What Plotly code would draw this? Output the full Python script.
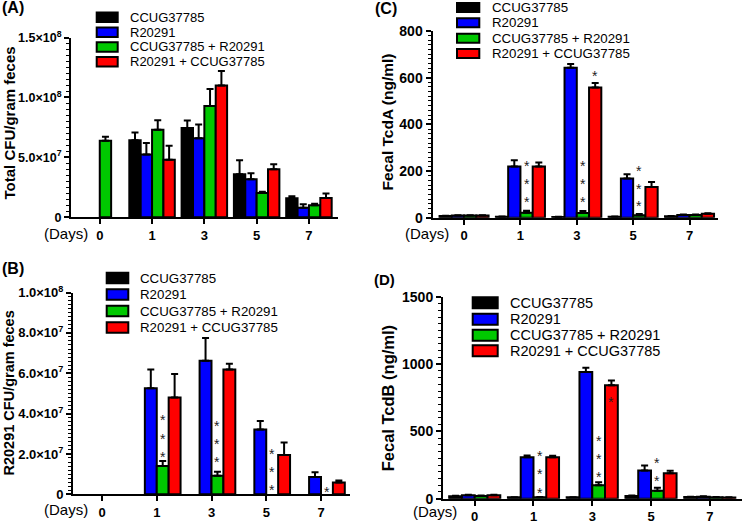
import plotly.graph_objects as go

W, H = 742, 523
FONT = "Liberation Sans, Arial, sans-serif"

# ---------------- data ----------------
days = ["0", "1", "3", "5", "7"]
series_names = ["CCUG37785", "R20291", "CCUG37785 + R20291", "R20291 + CCUG37785"]
series_colors = ["#000000", "#0000FF", "#00C800", "#FF0000"]

# (A) Total CFU/gram feces
a_ccug = [None, 6.43e7, 7.44e7, 3.60e7, 1.59e7]
a_ccug_err = [0, 0.64e7, 0.64e7, 1.16e7, 0.16e7]
a_r20291 = [None, 5.24e7, 6.60e7, 3.18e7, 0.80e7]
a_r20291_err = [0, 0.96e7, 1.14e7, 0.50e7, 0.28e7]
a_ccug_r = [6.38e7, 7.30e7, 9.28e7, 2.03e7, 1.00e7]
a_ccug_r_err = [0.33e7, 0.80e7, 1.42e7, 0.10e7, 0.12e7]
a_r_ccug = [None, 4.80e7, 1.10e8, 4.00e7, 1.60e7]
a_r_ccug_err = [0, 1.16e7, 1.20e7, 0.43e7, 0.38e7]

# (B) R20291 CFU/gram feces
b_ccug = [None, None, None, None, None]
b_ccug_err = [0, 0, 0, 0, 0]
b_r20291 = [None, 5.25e7, 6.62e7, 3.21e7, 0.86e7]
b_r20291_err = [0, 0.93e7, 1.13e7, 0.42e7, 0.23e7]
b_ccug_r = [None, 1.40e7, 0.92e7, None, None]
b_ccug_r_err = [0, 0.25e7, 0.20e7, 0, 0]
b_r_ccug = [None, 4.80e7, 6.18e7, 1.95e7, 0.58e7]
b_r_ccug_err = [0, 1.16e7, 0.29e7, 0.62e7, 0.10e7]

# (C) Fecal TcdA (ng/ml)
c_ccug = [8, 5, 3, 5, 7]
c_ccug_err = [1, 1, 1, 1, 1]
c_r20291 = [10, 220, 642, 168, 12]
c_r20291_err = [1, 26, 16, 18, 2]
c_ccug_r = [10, 22, 21, 11, 12]
c_ccug_r_err = [1, 8, 8, 5, 2]
c_r_ccug = [10, 220, 558, 132, 17]
c_r_ccug_err = [1, 17, 19, 21, 3]

# (D) Fecal TcdB (ng/ml)
d_ccug = [18, 10, 10, 20, 12]
d_ccug_err = [3, 1, 1, 3, 2]
d_r20291 = [25, 309, 941, 209, 15]
d_r20291_err = [5, 12, 32, 37, 3]
d_ccug_r = [20, 10, 100, 60, 10]
d_ccug_r_err = [3, 2, 22, 22, 2]
d_r_ccug = [25, 309, 844, 189, 8]
d_r_ccug_err = [5, 10, 35, 18, 2]

# significance asterisks: (day index, series index, y value of each star)
a_stars = []
b_stars = [(1, 2, [3.89e7, 2.96e7, 2.07e7]), (2, 2, [3.59e7, 2.70e7, 1.80e7]),
           (3, 2, [2.20e7, 1.31e7, 0.41e7]), (4, 2, [0.31e7])]
c_stars = [(1, 2, [238, 161, 85]), (2, 2, [238, 161, 85]), (2, 3, [625]),
           (3, 2, [218, 141, 68])]
d_stars = [(1, 2, [350, 212, 75]), (2, 2, [462, 326, 189]), (2, 3, [749]),
           (3, 2, [294, 160])]

a_yticks = [0, 5e7, 1e8, 1.5e8]
a_yticktext = ["<b>0</b>", "<b>5.0×10<sup>7</sup></b>", "<b>1.0×10<sup>8</sup></b>", "<b>1.5×10<sup>8</sup></b>"]
b_yticks = [0, 2e7, 4e7, 6e7, 8e7, 1e8]
b_yticktext = ["<b>0</b>", "<b>2.0×10<sup>7</sup></b>", "<b>4.0×10<sup>7</sup></b>",
               "<b>6.0×10<sup>7</sup></b>", "<b>8.0×10<sup>7</sup></b>", "<b>1.0×10<sup>8</sup></b>"]
c_yticks = [0, 200, 400, 600, 800]
d_yticks = [0, 500, 1000, 1500]

# ---------------- helpers ----------------
def px_x(p):
    return p / W


def px_y(p):
    return 1 - p / H


BARW = 0.87 / 4


panels = [
    dict(key="", vals=[a_ccug, a_r20291, a_ccug_r, a_r_ccug],
         errs=[a_ccug_err, a_r20291_err, a_ccug_r_err, a_r_ccug_err],
         xdom=[px_x(71), px_x(337.7)], ydom=[px_y(217.3), px_y(37.5)],
         xrange=[-0.55, 4.55], yrange=[0, 1.5e8], ytv=a_yticks, ytt=a_yticktext,
         minor=5e6, ytfs=12.5, stars=a_stars,
         title="Total CFU/gram feces", tx=9.2, ty=123.3, tfs=15,
         label="(A)", lx=0, ly=8, lfs=16,
         days_xy=(65.5, 233),
         leg=dict(x0=96.7, x1=117.7, tx=127.7, rows=[17.3, 32.3, 47.0, 61.7], h=9.5, fs=13)),
    dict(key="2", vals=[b_ccug, b_r20291, b_ccug_r, b_r_ccug],
         errs=[b_ccug_err, b_r20291_err, b_ccug_r_err, b_r_ccug_err],
         xdom=[px_x(73), px_x(350)], ydom=[px_y(494.3), px_y(292.5)],
         xrange=[-0.53, 4.53], yrange=[0, 1e8], ytv=b_yticks, ytt=b_yticktext,
         minor=2e6, ytfs=13, stars=b_stars,
         title="R20291 CFU/gram feces", tx=9.2, ty=393.3, tfs=14.5,
         label="(B)", lx=0, ly=268, lfs=16,
         days_xy=(65.8, 509.5),
         leg=dict(x0=106.7, x1=128.3, tx=138.3, rows=[278, 294.5, 311, 327.5], h=10.5, fs=13.3)),
    dict(key="3", vals=[c_ccug, c_r20291, c_ccug_r, c_r_ccug],
         errs=[c_ccug_err, c_r20291_err, c_ccug_r_err, c_r_ccug_err],
         xdom=[px_x(432.5), px_x(717.7)], ydom=[px_y(217.8), px_y(30.9)],
         xrange=[-0.56, 4.5], yrange=[0, 800], ytv=c_yticks,
         ytt=["<b>%d</b>" % v for v in c_yticks],
         minor=20, ytfs=14, stars=c_stars,
         title="Fecal TcdA (ng/ml)", tx=387.7, ty=121.7, tfs=15.5,
         label="(C)", lx=373, ly=8.5, lfs=16,
         days_xy=(426.5, 233),
         leg=dict(x0=457, x1=479.3, tx=490, rows=[7.5, 22.8, 38.3, 53.5], h=9, fs=13.3)),
    dict(key="4", vals=[d_ccug, d_r20291, d_ccug_r, d_r_ccug],
         errs=[d_ccug_err, d_r20291_err, d_ccug_r_err, d_r_ccug_err],
         xdom=[px_x(443), px_x(741.5)], ydom=[px_y(498.7), px_y(296.9)],
         xrange=[-0.54, 4.54], yrange=[0, 1500], ytv=d_yticks,
         ytt=["<b>%d</b>" % v for v in d_yticks],
         minor=50, ytfs=14, stars=d_stars,
         title="Fecal TcdB (ng/ml)", tx=388.3, ty=398, tfs=16.5,
         label="(D)", lx=372, ly=279, lfs=15,
         days_xy=(435.0, 511),
         leg=dict(x0=472.7, x1=497.7, tx=508.3, rows=[302.7, 319.3, 335.3, 350.7], h=11, fs=14.5)),
]

fig = go.Figure()
shapes = []
annotations = []
layout_axes = {}

for p in panels:
    k = p["key"]
    xa = "x" + k
    ya = "y" + k
    for i in range(4):
        fig.add_trace(go.Bar(
            x=list(range(len(days))), y=p["vals"][i], name=series_names[i],
            xaxis=xa, yaxis=ya, showlegend=False,
            marker=dict(color=series_colors[i], line=dict(color="black", width=2)),
            error_y=dict(type="data", symmetric=False, array=p["errs"][i],
                         arrayminus=[0] * len(days), color="black", thickness=2, width=3.5),
        ))
    layout_axes["xaxis" + k] = dict(
        domain=p["xdom"], anchor=ya, range=p["xrange"], automargin=False,
        tickvals=list(range(len(days))), ticktext=["<b>%s</b>" % d for d in days],
        tickfont=dict(family=FONT, size=13, color="black"),
        showline=True, linecolor="black", linewidth=2,
        ticks="outside", ticklen=5, tickwidth=2, tickcolor="black",
        showgrid=False, zeroline=False, fixedrange=True,
    )
    layout_axes["yaxis" + k] = dict(
        domain=p["ydom"], anchor=xa, range=p["yrange"], automargin=False,
        tickvals=p["ytv"], ticktext=p["ytt"],
        tickfont=dict(family=FONT, size=p["ytfs"], color="black"),
        showline=True, linecolor="black", linewidth=2,
        ticks="outside", ticklen=5, tickwidth=2, tickcolor="black",
        minor=dict(dtick=p["minor"], ticks="outside", ticklen=3, tickwidth=1.2, tickcolor="black"),
        showgrid=False, zeroline=False, fixedrange=True,
    )
    # asterisks
    for (di, si, ys) in p["stars"]:
        for yv in ys:
            annotations.append(dict(
                x=di + (si - 1.5) * BARW, y=yv, xref=xa, yref=ya, text="*",
                showarrow=False, font=dict(family=FONT, size=14, color="#222222"),
                xanchor="center", yanchor="middle", yshift=-4,
            ))
    # y-axis title
    annotations.append(dict(
        x=px_x(p["tx"]), y=px_y(p["ty"]), xref="paper", yref="paper",
        text="<b>%s</b>" % p["title"], textangle=-90, showarrow=False,
        font=dict(family=FONT, size=p["tfs"], color="black"),
        xanchor="center", yanchor="middle",
    ))
    # panel label
    annotations.append(dict(
        x=px_x(p["lx"]), y=px_y(p["ly"]), xref="paper", yref="paper",
        text="<b>%s</b>" % p["label"], showarrow=False,
        font=dict(family=FONT, size=p["lfs"], color="black"),
        xanchor="left", yanchor="middle",
    ))
    # (Days)
    annotations.append(dict(
        x=px_x(p["days_xy"][0]), y=px_y(p["days_xy"][1]), xref="paper", yref="paper",
        text="(Days)", showarrow=False,
        font=dict(family=FONT, size=15, color="black"),
        xanchor="center", yanchor="middle",
    ))
    # legend
    lg = p["leg"]
    for i, ry in enumerate(lg["rows"]):
        shapes.append(dict(
            type="rect", xref="paper", yref="paper",
            x0=px_x(lg["x0"]), x1=px_x(lg["x1"]),
            y0=px_y(ry + lg["h"] / 2), y1=px_y(ry - lg["h"] / 2),
            fillcolor=series_colors[i], line=dict(color="black", width=2),
        ))
        annotations.append(dict(
            x=px_x(lg["tx"]), y=px_y(ry), xref="paper", yref="paper",
            text=series_names[i], showarrow=False,
            font=dict(family=FONT, size=lg["fs"], color="black"),
            xanchor="left", yanchor="middle",
        ))

fig.update_layout(
    width=W, height=H, autosize=False,
    margin=dict(l=0, r=0, t=0, b=0, autoexpand=False),
    paper_bgcolor="white", plot_bgcolor="white",
    barmode="group", bargap=0.13, bargroupgap=0,
    showlegend=False,
    font=dict(family=FONT, color="black"),
    shapes=shapes, annotations=annotations,
    **layout_axes,
)

fig.write_html(
    "out.html",
    config={"displayModeBar": False},
    post_script="document.body.style.margin='0';document.body.style.overflow='hidden';",
)
